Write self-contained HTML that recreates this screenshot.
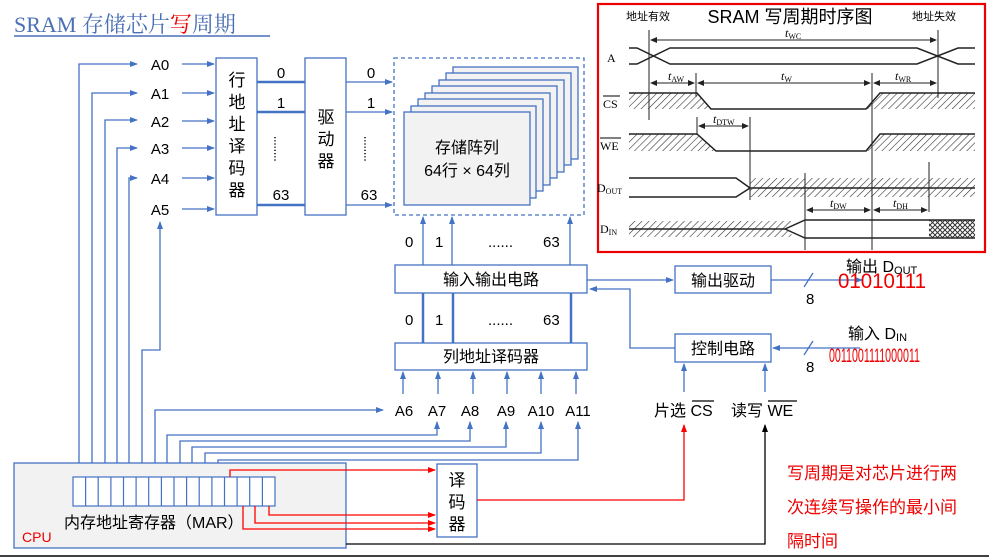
<!DOCTYPE html>
<html><head><meta charset="utf-8"><style>
body{margin:0;background:#fff}
svg{display:block}
text{font-family:"Liberation Sans","Noto Sans CJK SC",sans-serif;fill:#000}
.sf{font-family:"Liberation Serif","Noto Serif CJK SC",serif}
</style></head><body>
<svg width="989" height="557" viewBox="0 0 989 557" xmlns="http://www.w3.org/2000/svg">
<defs>
<marker id="ab" markerWidth="8" markerHeight="8" refX="7" refY="4" orient="auto" markerUnits="userSpaceOnUse"><path d="M0,1 L8,4 L0,7z" fill="#4472c4"/></marker>
<marker id="ar" markerWidth="8" markerHeight="8" refX="7" refY="4" orient="auto" markerUnits="userSpaceOnUse"><path d="M0,1 L8,4 L0,7z" fill="#f00"/></marker>
<marker id="ak" markerWidth="8" markerHeight="8" refX="7" refY="4" orient="auto" markerUnits="userSpaceOnUse"><path d="M0,1 L8,4 L0,7z" fill="#000"/></marker>
<marker id="at" markerWidth="7" markerHeight="6" refX="6" refY="3" orient="auto" markerUnits="userSpaceOnUse"><path d="M0,0 L7,3 L0,6z" fill="#222"/></marker>
<pattern id="h" width="5" height="5" patternUnits="userSpaceOnUse" patternTransform="rotate(45)"><line x1="0" y1="0" x2="0" y2="5" stroke="#333" stroke-width="1.2"/></pattern>
<pattern id="x" width="5" height="5" patternUnits="userSpaceOnUse"><path d="M0,0L5,5M5,0L0,5" stroke="#333" stroke-width="1"/></pattern>
</defs>

<text x="14" y="32" font-size="22" class="sf" style="fill:#4a6fb5">SRAM 存储芯片<tspan style="fill:#e00">写</tspan>周期</text>
<line x1="14" y1="36" x2="270" y2="36" stroke="#4a6fb5" stroke-width="1.5"/>

<g stroke="#4472c4" fill="none" stroke-width="1.3">
<rect x="216" y="58" width="41" height="157" fill="#fff"/>
<rect x="305" y="58" width="41" height="157" fill="#fff"/>
<line x1="182" y1="64" x2="214" y2="64" marker-end="url(#ab)"/>
<line x1="182" y1="93" x2="214" y2="93" marker-end="url(#ab)"/>
<line x1="182" y1="121" x2="214" y2="121" marker-end="url(#ab)"/>
<line x1="182" y1="148" x2="214" y2="148" marker-end="url(#ab)"/>
<line x1="182" y1="178" x2="214" y2="178" marker-end="url(#ab)"/>
<line x1="182" y1="209" x2="214" y2="209" marker-end="url(#ab)"/>
<polyline points="79,477 79,64 137,64" marker-end="url(#ab)"/>
<polyline points="92,477 92,93 137,93" marker-end="url(#ab)"/>
<polyline points="105,477 105,120 137,120" marker-end="url(#ab)"/>
<polyline points="117,477 117,148 137,148" marker-end="url(#ab)"/>
<polyline points="129,477 129,178 137,178" marker-end="url(#ab)"/>
<polyline points="142,477 142,350 160,350 160,222" marker-end="url(#ab)"/>
<polyline points="155,477 155,410 383,410" marker-end="url(#ab)"/>
<polyline points="167,477 167,435 437,435 437,422" marker-end="url(#ab)"/>
<polyline points="180,477 180,441 470,441 470,422" marker-end="url(#ab)"/>
<polyline points="192,477 192,447 506,447 506,422" marker-end="url(#ab)"/>
<polyline points="205,477 205,453 541,453 541,422" marker-end="url(#ab)"/>
<polyline points="218,477 218,460 578,460 578,422" marker-end="url(#ab)"/>
<g stroke-width="2.5"><line x1="257" y1="82" x2="305" y2="82"/><line x1="257" y1="112" x2="305" y2="112"/><line x1="257" y1="205" x2="305" y2="205"/></g>
<line x1="346" y1="82" x2="392" y2="82" marker-end="url(#ab)"/>
<line x1="346" y1="112" x2="392" y2="112" marker-end="url(#ab)"/>
<line x1="346" y1="205" x2="392" y2="205" marker-end="url(#ab)"/>
<rect x="394" y="58" width="190" height="157" stroke-dasharray="4,3"/>
</g>
<g stroke="#4472c4" stroke-width="1.3" fill="#f2f2f2">
<rect x="453" y="67" width="125" height="92"/>
<rect x="446" y="73" width="125" height="92"/>
<rect x="439" y="80" width="125" height="92"/>
<rect x="432" y="86" width="125" height="92"/>
<rect x="425" y="93" width="125" height="92"/>
<rect x="418" y="99" width="125" height="92"/>
<rect x="411" y="106" width="125" height="92"/>
<rect x="404" y="112" width="126" height="93"/>
</g>
<text x="467" y="153" font-size="16" text-anchor="middle">存储阵列</text>
<text x="467" y="176" font-size="16" text-anchor="middle">64行 × 64列</text>

<g font-size="15" text-anchor="middle">
<text x="160" y="70">A0</text><text x="160" y="99">A1</text><text x="160" y="127">A2</text><text x="160" y="154">A3</text><text x="160" y="184">A4</text><text x="160" y="215">A5</text>
<text x="281" y="78">0</text><text x="281" y="108">1</text><text x="281" y="200">63</text>
<text x="371" y="78">0</text><text x="371" y="108">1</text><text x="369" y="200">63</text>
</g>
<g stroke="#000" stroke-width="1.5" stroke-dasharray="1.2,2"><line x1="275" y1="137" x2="275" y2="162"/><line x1="365" y1="137" x2="365" y2="162"/></g>
<g font-size="17" text-anchor="middle">
<text x="237" y="86">行</text><text x="237" y="108">地</text><text x="237" y="130">址</text><text x="237" y="152">译</text><text x="237" y="174">码</text><text x="237" y="196">器</text>
<text x="326" y="123">驱</text><text x="326" y="145">动</text><text x="326" y="167">器</text>
</g>

<g stroke="#4472c4" fill="#fff" stroke-width="1.3">
<rect x="395" y="265" width="192" height="28"/>
<rect x="395" y="343" width="192" height="27"/>
<line x1="423" y1="265" x2="423" y2="217" marker-end="url(#ab)"/>
<line x1="452" y1="265" x2="452" y2="217" marker-end="url(#ab)"/>
<line x1="570" y1="265" x2="570" y2="217" marker-end="url(#ab)"/>
<g stroke-width="2.5"><line x1="423" y1="293" x2="423" y2="343"/><line x1="453" y1="293" x2="453" y2="343"/><line x1="571" y1="293" x2="571" y2="343"/></g>
<rect x="675" y="266" width="96" height="27"/>
<rect x="675" y="334" width="96" height="28"/>
<line x1="587" y1="280" x2="673" y2="280" marker-end="url(#ab)"/>
<polyline points="675,348 630,348 630,289 590,289" fill="none" marker-end="url(#ab)"/>
<line x1="771" y1="280" x2="862" y2="280" marker-end="url(#ab)"/>
<line x1="860" y1="348" x2="773" y2="348" marker-end="url(#ab)"/>
<line x1="684" y1="392" x2="684" y2="364" marker-end="url(#ab)"/>
<line x1="765" y1="392" x2="765" y2="364" marker-end="url(#ab)"/>
<line x1="403" y1="394" x2="403" y2="372" marker-end="url(#ab)"/>
<line x1="438" y1="394" x2="438" y2="372" marker-end="url(#ab)"/>
<line x1="473" y1="394" x2="473" y2="372" marker-end="url(#ab)"/>
<line x1="507" y1="394" x2="507" y2="372" marker-end="url(#ab)"/>
<line x1="541" y1="394" x2="541" y2="372" marker-end="url(#ab)"/>
<line x1="576" y1="394" x2="576" y2="372" marker-end="url(#ab)"/>
<line x1="804" y1="287" x2="813" y2="273"/>
<line x1="804" y1="355" x2="813" y2="341"/>
</g>
<g font-size="15">
<text x="405" y="247">0</text><text x="435" y="247">1</text><text x="488" y="247">......</text><text x="543" y="247">63</text>
<text x="405" y="325">0</text><text x="435" y="325">1</text><text x="488" y="325">......</text><text x="543" y="325">63</text>
<text x="806" y="304">8</text><text x="806" y="372">8</text>
</g>
<g font-size="16" text-anchor="middle">
<text x="491" y="285">输入输出电路</text><text x="491" y="362">列地址译码器</text>
<text x="723" y="286">输出驱动</text><text x="723" y="354">控制电路</text>
</g>
<g font-size="15" text-anchor="middle">
<text x="404" y="416">A6</text><text x="437" y="416">A7</text><text x="470" y="416">A8</text><text x="506" y="416">A9</text><text x="541" y="416">A10</text><text x="578" y="416">A11</text>
</g>
<text x="846" y="272" font-size="16">输出 D<tspan font-size="11" dy="2">OUT</tspan></text>
<text x="838" y="288" font-size="21" style="fill:#e00" textLength="88" lengthAdjust="spacingAndGlyphs">01010111</text>
<text x="848" y="339" font-size="16">输入 D<tspan font-size="11" dy="2">IN</tspan></text>
<text x="829" y="362" font-size="19" style="fill:#e00" textLength="91" lengthAdjust="spacingAndGlyphs">0011001111000011</text>
<text x="654" y="416" font-size="16">片选 CS</text><line x1="692" y1="401" x2="714" y2="401" stroke="#000" stroke-width="1.3"/>
<text x="731" y="416" font-size="16">读写 WE</text><line x1="768" y1="401" x2="797" y2="401" stroke="#000" stroke-width="1.3"/>

<rect x="14" y="463" width="332" height="85" fill="#f2f2f2" stroke="#4472c4" stroke-width="1.3"/>
<rect x="73" y="477" width="202" height="29" fill="#fff" stroke="#4472c4" stroke-width="1.2"/>
<g stroke="#4472c4" stroke-width="1.2">
<line x1="85.6" y1="477" x2="85.6" y2="506"/><line x1="98.2" y1="477" x2="98.2" y2="506"/><line x1="110.9" y1="477" x2="110.9" y2="506"/><line x1="123.5" y1="477" x2="123.5" y2="506"/><line x1="136.1" y1="477" x2="136.1" y2="506"/><line x1="148.7" y1="477" x2="148.7" y2="506"/><line x1="161.4" y1="477" x2="161.4" y2="506"/><line x1="174" y1="477" x2="174" y2="506"/><line x1="186.6" y1="477" x2="186.6" y2="506"/><line x1="199.2" y1="477" x2="199.2" y2="506"/><line x1="211.9" y1="477" x2="211.9" y2="506"/><line x1="224.5" y1="477" x2="224.5" y2="506"/><line x1="237.1" y1="477" x2="237.1" y2="506"/><line x1="249.7" y1="477" x2="249.7" y2="506"/><line x1="262.4" y1="477" x2="262.4" y2="506"/>
</g>
<text x="64" y="528" font-size="16">内存地址寄存器（MAR）</text>
<text x="22" y="542" font-size="14" style="fill:#e00">CPU</text>
<rect x="437" y="464" width="40" height="73" fill="#fff" stroke="#4472c4" stroke-width="1.3"/>
<g font-size="17" text-anchor="middle"><text x="457" y="486">译</text><text x="457" y="508">码</text><text x="457" y="530">器</text></g>
<g stroke="#f00" stroke-width="1.3" fill="none">
<polyline points="230,477 230,470 435,470" marker-end="url(#ar)"/>
<polyline points="269,506 269,515 435,515" marker-end="url(#ar)"/>
<polyline points="255,506 255,523 435,523" marker-end="url(#ar)"/>
<polyline points="243,506 243,529 435,529" marker-end="url(#ar)"/>
<polyline points="477,500 684,500 684,425" marker-end="url(#ar)"/>
</g>
<polyline points="346,544 765,544 765,425" fill="none" stroke="#000" stroke-width="1.3" marker-end="url(#ak)"/>
<line x1="0" y1="556" x2="989" y2="556" stroke="#000" stroke-width="1.5"/>
<g font-size="17">
<text x="787" y="479" style="fill:#e00">写周期是对芯片进行两</text>
<text x="787" y="513" style="fill:#e00">次连续写操作的最小间</text>
<text x="787" y="547" style="fill:#e00">隔时间</text>
</g>

<rect x="598" y="4" width="387" height="248" fill="#fff" stroke="#e00" stroke-width="2.2"/>
<text x="790" y="23" font-size="18" text-anchor="middle">SRAM 写周期时序图</text>
<text x="626" y="20" font-size="11">地址有效</text><text x="912" y="20" font-size="11">地址失效</text>
<g stroke="#222" stroke-width="1" fill="none">
<line x1="649" y1="30" x2="649" y2="120"/><line x1="938" y1="30" x2="938" y2="98"/>
<line x1="651" y1="40" x2="936" y2="40" marker-end="url(#at)"/><line x1="936" y1="40" x2="651" y2="40" marker-end="url(#at)"/>
<polyline points="629,48 637,48 670,64 917,64 958,48 975,48" stroke-width="1.5"/>
<polyline points="629,64 637,64 670,48 917,48 958,64 975,64" stroke-width="1.5"/>
<line x1="696" y1="73" x2="696" y2="97"/><line x1="872" y1="73" x2="872" y2="250"/>
<line x1="651" y1="83" x2="694" y2="83" marker-end="url(#at)"/><line x1="694" y1="83" x2="651" y2="83" marker-end="url(#at)"/>
<line x1="698" y1="83" x2="870" y2="83" marker-end="url(#at)"/><line x1="870" y1="83" x2="698" y2="83" marker-end="url(#at)"/>
<line x1="874" y1="83" x2="936" y2="83" marker-end="url(#at)"/><line x1="936" y1="83" x2="874" y2="83" marker-end="url(#at)"/>
<path d="M629,93 L697,93 L711,109 L629,109z" fill="url(#h)" stroke="none"/>
<path d="M880,93 L975,93 L975,109 L866,109z" fill="url(#h)" stroke="none"/>
<polyline points="629,93 697,93 711,109 866,109 880,93 975,93" stroke-width="1.5"/>
<line x1="697" y1="117" x2="697" y2="135"/><line x1="750" y1="117" x2="750" y2="200"/>
<line x1="699" y1="126" x2="748" y2="126" marker-end="url(#at)"/><line x1="748" y1="126" x2="699" y2="126" marker-end="url(#at)"/>
<path d="M629,134 L697,134 L716,151 L629,151z" fill="url(#h)" stroke="none"/>
<path d="M880,134 L975,134 L975,151 L866,151z" fill="url(#h)" stroke="none"/>
<polyline points="629,134 697,134 716,151 866,151 880,134 975,134" stroke-width="1.5"/>
<rect x="750" y="178" width="225" height="19" fill="url(#h)" stroke="none"/>
<polyline points="629,178 736,178 750,188 975,188" stroke-width="1.5"/>
<polyline points="629,197 736,197 750,188" stroke-width="1.5"/>
<line x1="805" y1="173" x2="805" y2="250"/><line x1="929" y1="162" x2="929" y2="212"/>
<line x1="807" y1="210" x2="870" y2="210" marker-end="url(#at)"/><line x1="870" y1="210" x2="807" y2="210" marker-end="url(#at)"/>
<line x1="874" y1="210" x2="927" y2="210" marker-end="url(#at)"/><line x1="927" y1="210" x2="874" y2="210" marker-end="url(#at)"/>
<path d="M629,221 L795,221 L785,229 L795,237 L629,237z" fill="url(#h)" stroke="none"/>
<rect x="929" y="220" width="46" height="18" fill="url(#x)" stroke="none"/>
<polyline points="629,229 785,229 805,220 975,220" stroke-width="1.5"/>
<polyline points="785,229 805,238 975,238" stroke-width="1.5"/>
</g>
<g font-size="12">
<text x="607" y="62" class="sf">A</text>
<text x="603" y="108" class="sf">CS</text><line x1="603" y1="96" x2="620" y2="96" stroke="#000"/>
<text x="600" y="150" class="sf">WE</text><line x1="600" y1="138" x2="621" y2="138" stroke="#000"/>
<text x="597" y="192" class="sf">D<tspan font-size="8" dy="2">OUT</tspan></text>
<text x="600" y="233" class="sf">D<tspan font-size="8" dy="2">IN</tspan></text>
<text x="785" y="37" class="sf" font-style="italic">t<tspan font-size="8" dy="2" font-style="normal">WC</tspan></text>
<text x="668" y="80" class="sf" font-style="italic">t<tspan font-size="8" dy="2" font-style="normal">AW</tspan></text>
<text x="781" y="80" class="sf" font-style="italic">t<tspan font-size="8" dy="2" font-style="normal">W</tspan></text>
<text x="895" y="80" class="sf" font-style="italic">t<tspan font-size="8" dy="2" font-style="normal">WR</tspan></text>
<text x="713" y="123" class="sf" font-style="italic">t<tspan font-size="8" dy="2" font-style="normal">DTW</tspan></text>
<text x="830" y="207" class="sf" font-style="italic">t<tspan font-size="8" dy="2" font-style="normal">DW</tspan></text>
<text x="893" y="207" class="sf" font-style="italic">t<tspan font-size="8" dy="2" font-style="normal">DH</tspan></text>
</g>
</svg>
</body></html>
